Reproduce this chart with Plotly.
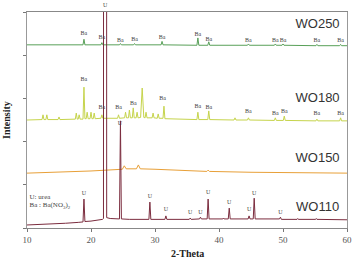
import plotly.graph_objects as go

# ---- data (vertex lists of each pattern) ----
wo110_x = [10, 12, 14, 16, 18, 18.75, 18.9, 19.05, 20, 21, 21.8, 21.95, 22.02, 22.38, 22.45, 23, 24, 24.45, 24.6, 24.75,
           26, 28, 29.05, 29.2, 29.35, 31.55, 31.7, 31.85, 35.35, 35.5, 35.65, 36.95, 37.1, 37.25, 38.15, 38.3, 38.45,
           40.6, 40.7, 40.8, 41.45, 41.6, 41.75, 44.55, 44.7, 44.85, 45.35, 45.5, 45.65, 49.45, 49.6, 49.75,
           52.2, 52.3, 52.4, 55.1, 55.2, 55.3, 60]
wo110_y = [7, 8, 9, 11, 13, 14, 67, 15, 16, 18, 20, 22, 5000, 5000, 24, 22, 21, 21, 248, 21,
           20, 20, 20, 60, 20, 20, 28, 20, 20, 23, 20, 21, 25, 21, 21, 67, 21,
           21, 23, 21, 21, 46, 21, 21, 28, 21, 21, 69, 21, 21, 25, 20,
           20, 22, 20, 20, 22, 20, 19]

wo150_x = [10, 15, 20, 24.9, 25.2, 25.5, 27.1, 27.4, 27.7, 30, 35, 38.1, 38.3, 38.5, 45, 50, 55, 60]
wo150_y = [127, 129, 132, 136, 144, 137, 137, 146, 137, 136, 133, 131, 134, 131, 129, 128, 127, 127]

wo180_x = [10, 12.35, 12.5, 12.65, 12.95, 13.1, 13.25, 14.85, 15, 15.15, 17.55, 17.7, 17.85, 18.0, 18.15, 18.3,
           18.75, 18.9, 19.05, 19.25, 19.4, 19.55, 19.85, 20.0, 20.15, 20.35, 20.5, 20.65, 21.55, 21.7, 21.85,
           24.15, 24.3, 24.45, 25.25, 25.4, 25.55, 25.85, 26.0, 26.15, 26.45, 26.6, 26.75, 27.05, 27.2, 27.35,
           27.75, 28.0, 28.25, 28.45, 28.6, 28.75, 29.55, 29.7, 29.85, 30.35, 30.5, 30.65, 31.25, 31.4, 31.55,
           36.55, 36.7, 36.85, 38.25, 38.4, 38.55, 42.35, 42.5, 42.65, 44.45, 44.6, 44.75, 48.65, 48.8, 48.95,
           50.05, 50.2, 50.35, 55.15, 55.3, 55.45, 58.85, 59.0, 59.15, 60]
wo180_y = [250, 251, 262, 251, 251, 262, 251, 251, 257, 251, 252, 266, 252, 252, 262, 252,
           252, 326, 253, 253, 268, 253, 253, 268, 253, 253, 266, 253, 254, 262, 254,
           254, 262, 254, 255, 268, 255, 255, 273, 255, 255, 278, 255, 255, 268, 255,
           256, 324, 256, 255, 268, 255, 255, 266, 255, 254, 264, 254, 254, 282, 253,
           251, 268, 251, 251, 271, 251, 250, 255, 250, 250, 255, 250, 249, 255, 249,
           249, 259, 249, 248, 252, 248, 248, 255, 248, 248]

wo250_x = [10, 18.75, 18.9, 19.05, 21.55, 21.7, 21.85, 24.45, 24.6, 24.75, 26.65, 26.8, 26.95, 30.95, 31.1, 31.25,
           36.55, 36.7, 36.85, 38.25, 38.4, 38.55, 44.45, 44.6, 44.75, 48.65, 48.8, 48.95, 49.85, 50.0, 50.15,
           55.15, 55.3, 55.45, 58.85, 59.0, 59.15, 60]
wo250_y = [424, 424, 437, 424, 424, 429, 424, 424, 427, 424, 424, 427, 424, 424, 432, 424,
           423, 440, 423, 423, 431, 423, 423, 426, 423, 423, 426, 423, 423, 426, 423,
           422, 425, 422, 422, 425, 422, 422]

# peak labels
u_x = [18.9, 24.5, 29.2, 31.7, 35.5, 37.1, 38.3, 41.6, 44.7, 45.5, 49.6]
u_y = [81, 243, 72, 42, 35, 35, 83, 60, 42, 81, 37]
u_top_x = 22.2          # label of the off-scale peak, above the frame
ba180_x = [18.9, 21.7, 24.3, 26.6, 31.2, 36.7, 38.4, 44.6, 48.8, 50.2, 55.3, 59.0]
ba180_y = [343, 278, 280, 289, 299, 282, 280, 269, 266, 269, 264, 266]
ba250_x = [18.9, 21.7, 24.6, 26.8, 31.1, 36.7, 38.4, 44.6, 48.8, 50.0, 55.3, 59.0]
ba250_y = [451, 440, 435, 437, 440, 449, 437, 435, 433, 435, 435, 435]

names = ["WO250", "WO180", "WO150", "WO110"]
name_x = [55.4, 55.4, 55.4, 55.4]
name_y = [470, 300, 160, 46]
legend_lines = ["U: urea", "Ba : Ba(NO<sub>3</sub>)<sub>2</sub>"]
legend_y = [72, 52]

col110 = "#7b2c3e"
col150 = "#e8a038"
col180 = "#c6d44c"
col250 = "#58a058"

fig = go.Figure()
for xs, ys, c in [(wo250_x, wo250_y, col250), (wo180_x, wo180_y, col180),
                  (wo150_x, wo150_y, col150), (wo110_x, wo110_y, col110)]:
    fig.add_trace(go.Scatter(x=xs, y=ys, mode="lines", line=dict(color=c, width=1)))

serif = "Liberation Serif"
lab_font = dict(family=serif, size=6, color="#444")
fig.add_trace(go.Scatter(x=u_x, y=u_y, mode="text", text=["U"] * len(u_x), textfont=lab_font,
                         cliponaxis=False))
fig.add_trace(go.Scatter(x=ba180_x, y=ba180_y, mode="text", text=["Ba"] * len(ba180_x), textfont=lab_font,
                         cliponaxis=False))
fig.add_trace(go.Scatter(x=ba250_x, y=ba250_y, mode="text", text=["Ba"] * len(ba250_x), textfont=lab_font,
                         cliponaxis=False))
fig.add_trace(go.Scatter(x=name_x, y=name_y, mode="text", text=names,
                         textfont=dict(family="Liberation Sans", size=13, color="#333"), cliponaxis=False))
fig.add_trace(go.Scatter(x=[10.4, 10.4], y=legend_y, mode="text", text=legend_lines, textposition="middle right",
                         textfont=dict(family=serif, size=7, color="#444"), cliponaxis=False))

fig.update_layout(
    width=359, height=259, showlegend=False,
    margin=dict(l=27, r=7, t=12, b=31),
    paper_bgcolor="white", plot_bgcolor="white",
    xaxis=dict(range=[10, 60], dtick=10, ticks="outside", ticklen=3, tickcolor="#777",
               showline=True, linecolor="#888", linewidth=1, mirror=True, showgrid=False, zeroline=False,
               tickfont=dict(family=serif, size=9, color="#555")),
    yaxis=dict(range=[0, 500], dtick=100, ticks="outside", ticklen=3, tickcolor="#777",
               showticklabels=False, showline=True, linecolor="#999", linewidth=1, mirror=True,
               showgrid=False, zeroline=False),
    annotations=[
        dict(text="U", x=u_top_x, y=1, xref="x", yref="paper", yshift=7, showarrow=False,
             font=lab_font, xanchor="center", yanchor="middle"),
        dict(text="<b>2-Theta</b>", xref="paper", yref="paper", x=0.5, y=0, yshift=-25, showarrow=False,
             xanchor="center", yanchor="middle", font=dict(family=serif, size=10, color="#222")),
        dict(text="<b>Intensity</b>", xref="paper", yref="paper", x=0, y=0.5, xshift=-21, showarrow=False,
             xanchor="center", yanchor="middle", textangle=-90,
             font=dict(family=serif, size=10, color="#222")),
    ],
)

fig.write_html("out.html")
